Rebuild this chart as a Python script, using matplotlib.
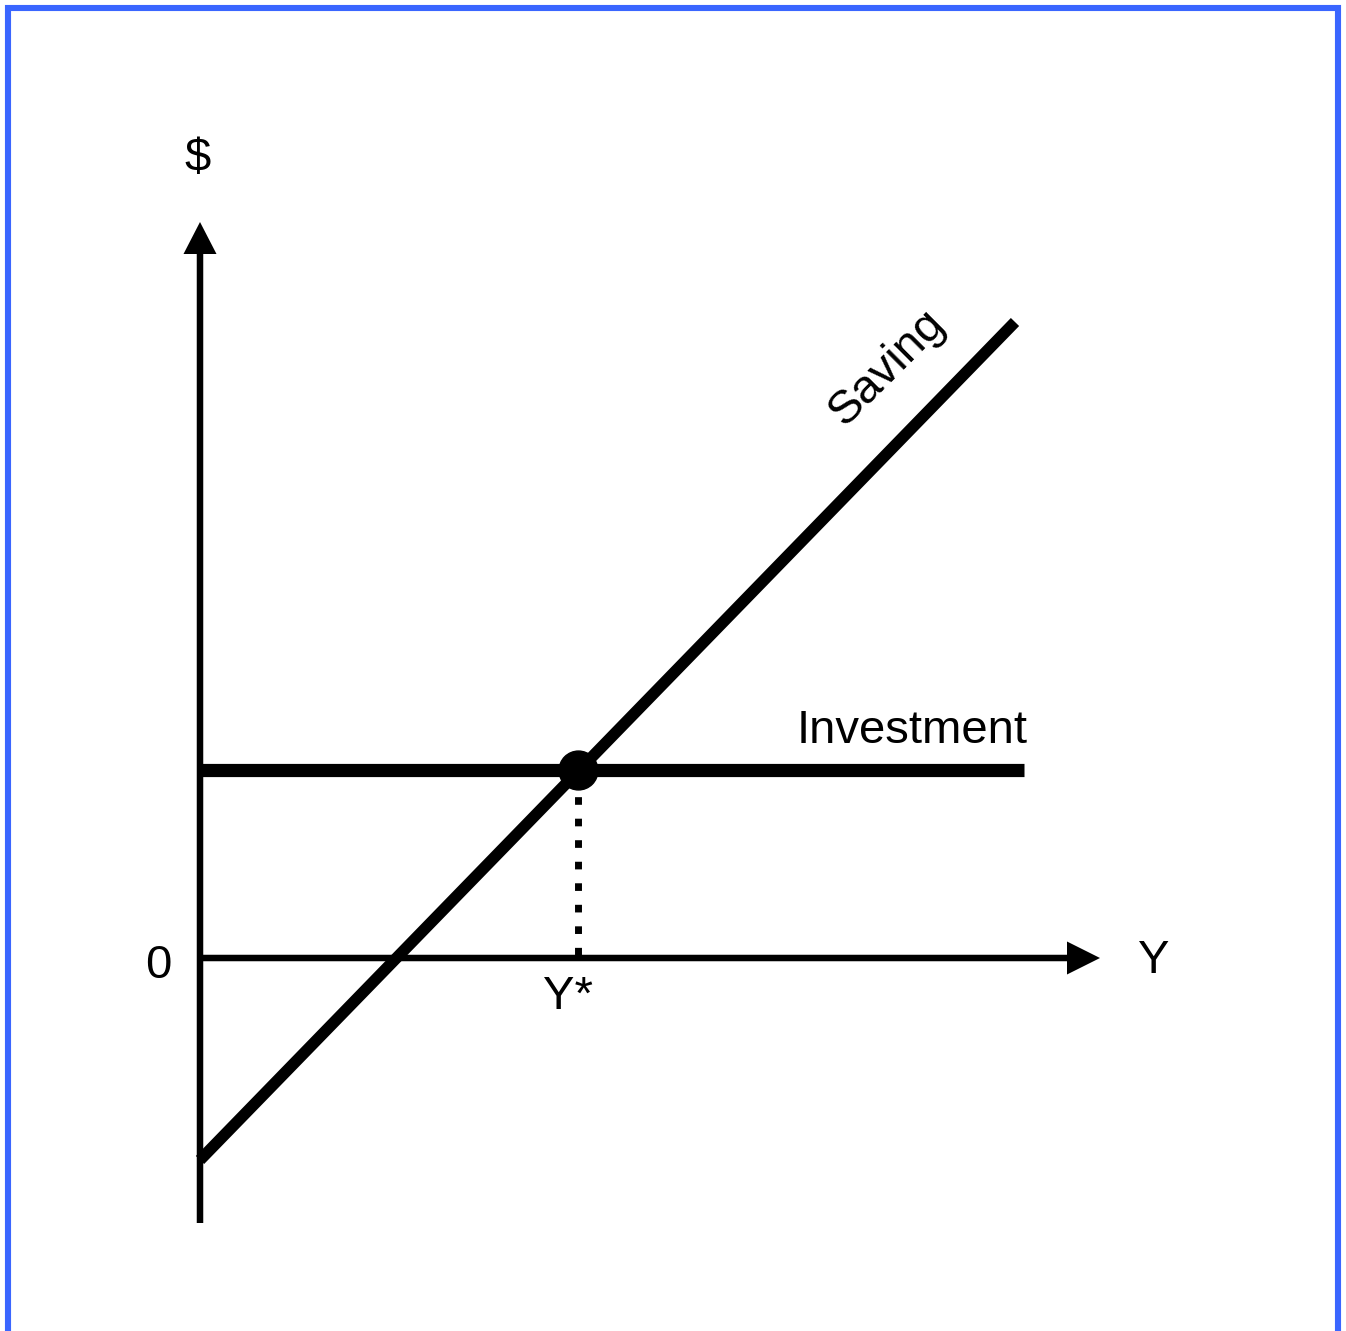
import matplotlib
matplotlib.use("Agg")
import matplotlib.pyplot as plt
from matplotlib.patches import Rectangle

plt.rcParams["font.family"] = ["Liberation Sans", "DejaVu Sans"]

# diagram units: origin at the corner of the axes, 1 unit ~ 100 px
Y_AXIS = (-2.65, 7.36)      # vertical arrow from bottom to tip
X_AXIS = (0.0, 9.0)         # horizontal arrow from origin to tip
SAVING_X = [0.0, 8.15]
SAVING_Y = [-2.02, 6.36]
INVEST_X = [0.0, 8.24]
INVEST_Y = [1.88, 1.88]
Y_STAR = 3.78
EQ_LEVEL = 1.88

fig = plt.figure(figsize=(13.46, 13.31), dpi=100)
ax = fig.add_axes([0, 0, 1, 1])
ax.set_xlim(-2.0, 11.46)
ax.set_ylim(-3.73, 9.58)
ax.axis("off")

# axes with arrow heads
ax.arrow(0, Y_AXIS[0], 0, Y_AXIS[1] - Y_AXIS[0], width=0.065, head_width=0.33,
         head_length=0.32, length_includes_head=True, color="black", lw=0)
ax.arrow(X_AXIS[0], 0, X_AXIS[1] - X_AXIS[0], 0, width=0.065, head_width=0.33,
         head_length=0.33, length_includes_head=True, color="black", lw=0)

# curves
ax.plot(SAVING_X, SAVING_Y, color="black", lw=8.3, solid_capstyle="butt")
ax.plot(INVEST_X, INVEST_Y, color="black", lw=9.5, solid_capstyle="butt")

# equilibrium
ax.plot([Y_STAR, Y_STAR], [0.03, EQ_LEVEL], color="black", lw=5,
        linestyle=(0, (1.1, 2.0)), dash_capstyle="butt")
ax.plot([Y_STAR], [EQ_LEVEL], "o", color="black", markersize=28)

fs = 34
ax.text(-0.02, 7.99, "$", fontsize=fs, ha="center", va="center")
ax.text(-0.42, -0.08, "0", fontsize=fs, ha="center", va="center")
ax.text(9.54, -0.03, "Y", fontsize=fs, ha="center", va="center")
ax.text(3.68, -0.39, "Y*", fontsize=fs, ha="center", va="center")
ax.text(7.12, 2.27, "Investment", fontsize=fs, ha="center", va="center")
ax.text(6.87, 5.91, "Saving", fontsize=fs, ha="center", va="center",
        rotation=45, rotation_mode="anchor")

# blue frame (open at the bottom)
fig.patches.append(Rectangle((8 / 1346, -0.05), 1330 / 1346, 1.05 - 8 / 1331,
                             transform=fig.transFigure, fill=False,
                             edgecolor="#3a66ff", lw=4.4))

fig.savefig("out.png", dpi=100)
